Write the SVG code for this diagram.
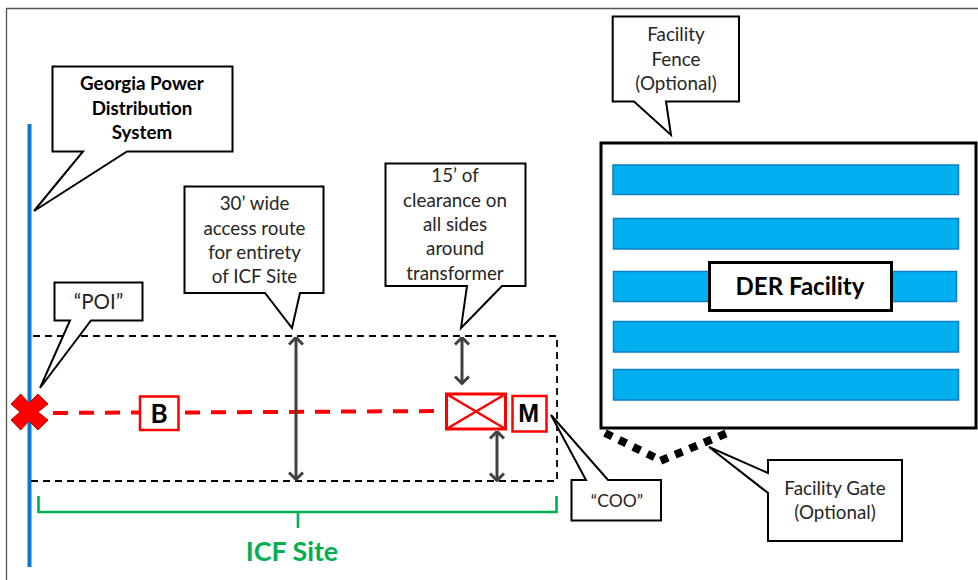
<svg xmlns="http://www.w3.org/2000/svg" width="978" height="580" viewBox="0 0 978 580">
<defs>
<style>
text{font-family:"Lato","Carlito","Noto Sans",sans-serif;text-anchor:middle;fill:#262626;font-size:18.8px}
.b{font-weight:700;fill:#000}
.co{fill:#fff;stroke:#000;stroke-width:2}
.bar{fill:#00b0f0;stroke:#0a7fc4;stroke-width:1.5}
.dash{fill:none;stroke:#000;stroke-width:1.8;stroke-dasharray:7 5}
.red{fill:none;stroke:#f00;stroke-width:2.5}
.redd{fill:none;stroke:#f00;stroke-width:4;stroke-dasharray:15 11}
.dim{fill:none;stroke:#404040;stroke-width:3;marker-start:url(#a);marker-end:url(#a)}
.gr{fill:none;stroke:#00b050;stroke-width:2.6}
.gate{fill:none;stroke:#000;stroke-width:8;stroke-dasharray:8 7.700}
</style>
<marker id="a" viewBox="0 0 10 16" refX="9.500" refY="8" markerWidth="10" markerHeight="16" markerUnits="userSpaceOnUse" orient="auto-start-reverse"><path d="M2 1L9 8L2 15" fill="none" stroke="#404040" stroke-width="3"/></marker>
</defs>
<rect width="978" height="580" fill="#fff"/>
<path d="M6.500 580V8.500H978" fill="none" stroke="#555" stroke-width="1.300"/>
<g id="connectors">
<rect x="27.500" y="124" width="4" height="443" fill="#0a78d0"/>
<path class="dash" d="M33 336H557V481H30"/>
<path class="redd" d="M53 413L140 412.500"/>
<path class="redd" d="M185 412.500L445 411"/>
<path class="dim" d="M296 337V480"/>
<path class="dim" d="M462 337V384"/>
<path class="dim" d="M497 431V481"/>
<path class="gr" d="M38.500 496V512H556.500V496M298 512V528"/>
<path class="gate" d="M605 433L660 460"/>
<path class="gate" d="M726 433.500L660 461"/>
</g>
<g id="poi-marker"><polygon points="11,404 20.700,394 29,403 38,394 48,404 38,412 48,420 38,430 29,421 20.700,430 11,420 20,412" fill="#f00" stroke="#c00000" stroke-width="1"/></g>
<g id="breaker"><rect class="red" x="140" y="396.500" width="38.500" height="33.500" style="fill:#fff"/><text class="b" x="159" y="422.500" style="font-size:26px">B</text></g>
<g id="transformer"><rect class="red" x="446.500" y="394" width="59" height="35" style="fill:#fff;stroke-width:3"/><path class="red" d="M446.500 394L505.500 429M505.500 394L446.500 429"/></g>
<g id="meter"><rect class="red" x="512.500" y="396" width="34" height="35.500" style="fill:#fff"/><text class="b" x="528.700" y="421.700" style="font-family:'Liberation Sans',sans-serif;font-size:25px">M</text></g>
<g id="georgia-callout"><path class="co" d="M52.500 66.500H232.500V151.500H127L34 211L83 151.500H52.500Z"/><text class="b" x="142" y="90">Georgia Power</text><text class="b" x="142" y="115">Distribution</text><text class="b" x="142" y="139">System</text></g>
<g id="access-callout"><path class="co" d="M184.500 186.500H323.500V293H300L292 328L265 293H184.500Z"/><text x="254.500" y="210">30’ wide</text><text x="254.500" y="235">access route</text><text x="254.500" y="259">for entirety</text><text x="254.500" y="283">of ICF Site</text></g>
<g id="poi-callout"><path class="co" d="M54.500 282.500H142.500V320.500H91L40 388L70 320.500H54.500Z"/><text x="98.500" y="309" style="font-size:20.500px">“POI”</text></g>
<g id="clearance-callout"><path class="co" d="M385.500 163.500H525.500V286H502L461 328L467 286H385.500Z"/><text x="455" y="182">15’ of</text><text x="455" y="207">clearance on</text><text x="455" y="231">all sides</text><text x="455" y="255">around</text><text x="455" y="280">transformer</text></g>
<g id="coo-callout"><path class="co" d="M586 480H571.500V520.500H661V480H608L551 415Z"/><text x="617" y="507" style="font-size:17.500px">“COO”</text></g>
<g id="fence-callout"><path class="co" d="M612.700 16.500H739V101.500H666L671 135L634 101.500H612.700Z"/><text x="676" y="41">Facility</text><text x="676" y="66">Fence</text><text x="676" y="90">(Optional)</text></g>
<g id="der-facility">
<rect x="601" y="143" width="375" height="285" fill="#fff" stroke="#000" stroke-width="3"/>
<rect class="bar" x="613" y="165" width="345.500" height="29.500"/>
<rect class="bar" x="613.500" y="218.500" width="345" height="30.500"/>
<rect class="bar" x="613.500" y="271.500" width="343" height="30"/>
<rect class="bar" x="613.500" y="321.500" width="345" height="30.500"/>
<rect class="bar" x="613.500" y="369.500" width="345" height="30.500"/>
<rect x="709.500" y="262.500" width="182" height="48" fill="#fff" stroke="#000" stroke-width="3"/>
<text class="b" x="800" y="295" style="font-size:24px">DER Facility</text>
</g>
<g id="gate-callout"><path class="co" d="M768 460H902V541H768V493L709 447L768 473Z"/><text x="835" y="495">Facility Gate</text><text x="835" y="519">(Optional)</text></g>
<g id="icf-label"><text class="b" x="292" y="561" style="font-size:26.800px;fill:#00b050">ICF Site</text></g>
</svg>
